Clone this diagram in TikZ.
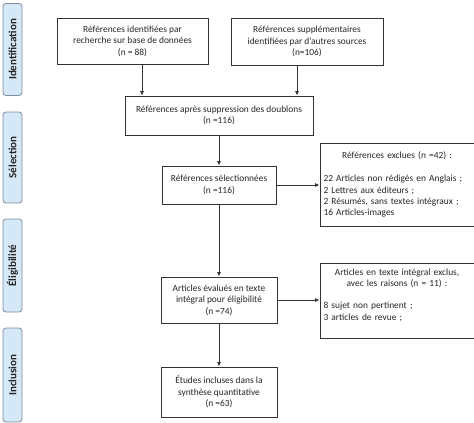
\documentclass[tikz,border=0pt]{standalone}
\usepackage{fontspec}
\setmainfont{Carlito}
\usetikzlibrary{arrows.meta}
\definecolor{sidefill}{HTML}{D5E8F8}
\definecolor{sideedge}{HTML}{7F8C9E}
\definecolor{linec}{HTML}{333333}
\begin{document}
\begin{tikzpicture}[x=1pt,y=-1pt,
  box/.style={draw=linec,line width=0.9pt,fill=white,align=center,inner sep=2pt,
    font=\fontsize{9.4}{11.4}\selectfont,text=black!85},
  side/.style={draw=sideedge,line width=0.8pt,fill=sidefill,rounded corners=3pt,
    minimum width=19pt,inner sep=0pt},
  sidetext/.style={rotate=90,font=\bfseries\fontsize{11}{13}\selectfont,text=black!85},
  arr/.style={-{Latex[length=4.5pt,width=4pt]},draw=linec,line width=0.9pt}]
\useasboundingbox (0,0) rectangle (474,423);
% side labels
\node[side,minimum height=92pt] (sid) at (12.5,49.5) {};
\node[sidetext] at (sid.center) {Identification};
\node[side,minimum height=91pt] (ssel) at (12.5,157.5) {};
\node[sidetext] at (ssel.center) {Sélection};
\node[side,minimum height=93pt] (selig) at (12.5,265.5) {};
\node[sidetext] at (selig.center) {Éligibilité};
\node[side,minimum height=94pt] (sinc) at (12.5,375) {};
\node[sidetext] at (sinc.center) {Inclusion};
% boxes
\node[box,minimum width=151pt,minimum height=46pt] (b1) at (132.5,41)
  {Références identifiées par\\recherche sur base de données\\(n = 88)};
\node[box,minimum width=152pt,minimum height=47pt] (b2) at (307,41.5)
  {Références supplémentaires\\identifiées par d’autres sources\\(n=106)};
\node[box,minimum width=188pt,minimum height=39pt] (b3) at (219,115.5)
  {Références après suppression des doublons\\(n =116)};
\node[box,minimum width=114pt,minimum height=38pt] (b4) at (219,185)
  {Références sélectionnées\\(n =116)};
\node[box,minimum width=116pt,minimum height=46pt] (b5) at (219,300)
  {Articles évalués en texte\\intégral pour éligibilité\\(n =74)};
\node[box,minimum width=116pt,minimum height=50pt] (b6) at (219,392)
  {Études incluses dans la\\synthèse quantitative\\(n =63)};
\node[box,minimum width=154pt,minimum height=83pt,text width=147pt,align=left,inner sep=3.5pt] (e1) at (397,184.5)
  {{\centering Références exclues (n =42) :\par}\vspace{12pt}%
   22 Articles non rédigés en Anglais ;\\2 Lettres aux éditeurs ;\\2 Résumés, sans textes intégraux ;\\16 Articles-images};
\node[box,minimum width=154pt,minimum height=75pt,text width=147pt,align=left,inner sep=3.5pt] (e2) at (397,300.5)
  {{\centering Articles en texte intégral exclus,\\avec les raisons (n = 11) :\par}\vspace{11pt}%
   8 sujet non pertinent ;\\3 articles de revue ;\par\vspace{11pt}};
% connectors
\draw[arr] (b1.south -| 142,0) -- (b3.north -| 142,0);
\draw[arr] (b2.south -| 297,0) -- (b3.north -| 297,0);
\draw[arr] (b3) -- (b4);
\draw[arr] (b4) -- (b5);
\draw[arr] (b5) -- (b6);
\draw[arr] (b4.east) -- (b4.east -| e1.west);
\draw[arr] (b5.east) -- (b5.east -| e2.west);
\end{tikzpicture}
\end{document}
